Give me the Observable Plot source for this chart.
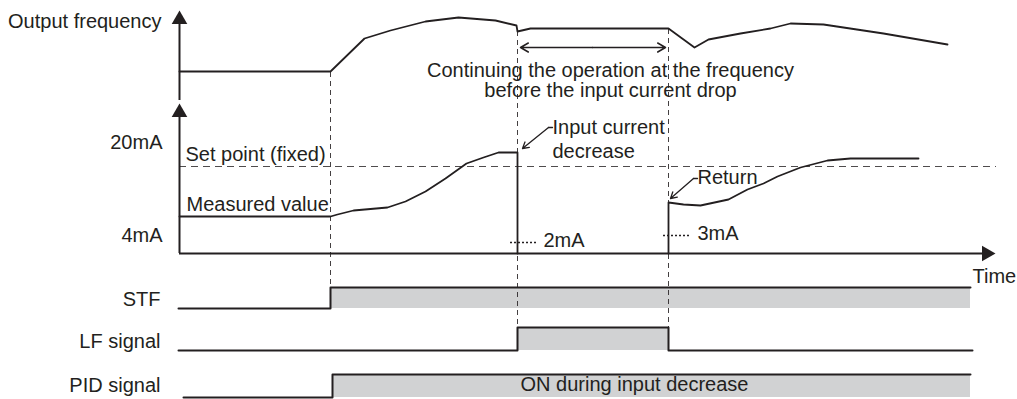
<!DOCTYPE html>
<html><head><meta charset="utf-8">
<script src="https://cdn.jsdelivr.net/npm/d3@7"></script>
<script src="https://cdn.jsdelivr.net/npm/@observablehq/plot@0.6"></script>
<style>
html,body{margin:0;padding:0;background:#fff;}
svg{display:block;}
</style>
</head><body>
<div id="chart"></div>
<script>
// ---- data (time t along the horizontal, level v along the vertical, both in drawing units) ----
const freqCurve = [
  {t:179,v:71},{t:330,v:71},{t:364,v:38},{t:390,v:30},{t:425,v:21},{t:458,v:17},{t:495,v:20},
  {t:516,v:25},{t:517,v:31},{t:530,v:28},{t:668,v:28},{t:694,v:47},{t:708,v:39},{t:740,v:33},
  {t:770,v:28},{t:790,v:23},{t:823,v:24},{t:883,v:33},{t:947,v:44}
];
const measuredBefore = [
  {t:179,v:216},{t:330,v:216},{t:337,v:214},{t:353,v:210},{t:387,v:207},{t:405,v:201},{t:425,v:191},
  {t:445,v:178},{t:466,v:163},{t:483,v:157},{t:498,v:152},{t:517,v:152},{t:517,v:253}
];
const measuredAfter = [
  {t:668,v:253},{t:668,v:202},{t:683,v:204},{t:700,v:205},{t:728,v:199},{t:747,v:189},{t:763,v:183},
  {t:777,v:176},{t:800,v:167},{t:827,v:160},{t:850,v:158},{t:918,v:158}
];
const eventLines = [{t:330,a:72,b:286},{t:517,a:31,b:327},{t:668,a:29,b:327}];
const setPoint = 166;
const stfSignal = [{t:178,v:308},{t:330,v:308},{t:330,v:287},{t:970,v:287}];
const lfSignal  = [{t:178,v:350},{t:517,v:350},{t:517,v:327},{t:668,v:327},{t:668,v:350},{t:972,v:350}];
const pidSignal = [{t:183,v:397},{t:332,v:397},{t:332,v:374},{t:970,v:374}];
const onBands = [
  {t1:330,t2:970,v1:287,v2:308},
  {t1:517,t2:668,v1:327,v2:350},
  {t1:332,t2:970,v1:374,v2:397}
];
const labelsEnd = [
  {t:161,v:27, text:"Output frequency"},
  {t:162,v:148,text:"20mA"},
  {t:162,v:241,text:"4mA"},
  {t:160,v:305,text:"STF"},
  {t:160,v:347,text:"LF signal"},
  {t:160,v:391,text:"PID signal"}
];
const labelsMiddle = [
  {t:610,v:76, text:"Continuing the operation at the frequency"},
  {t:610,v:96, text:"before the input current drop"}
];
const labelsStart = [
  {t:185,v:160,text:"Set point (fixed)"},
  {t:186,v:210,text:"Measured value"},
  {t:552,v:133,text:"Input current"},
  {t:552,v:157,text:"decrease"},
  {t:543,v:246,text:"2mA"},
  {t:697,v:183,text:"Return"},
  {t:697,v:239,text:"3mA"},
  {t:972,v:282,text:"Time"},
  {t:520,v:390,text:"ON during input decrease"}
];
const ink = "#231f20";
const font = "Liberation Sans, Arial, Helvetica, sans-serif";
const txt = (data, anchor) => Plot.text(data, {x:"t", y:"v", text:"text", textAnchor:anchor, lineAnchor:"bottom", fill:ink, fontSize:20, fontFamily:font});

const plot = Plot.plot({
  width: 1017, height: 399,
  margin: 0,
  x: {domain:[0,1017], range:[0,1017], axis:null},
  y: {domain:[0,399], range:[0,399], axis:null},
  style: {fontFamily: font, background:"#fff"},
  marks: [
    // gray ON bands
    Plot.rect(onBands, {x1:"t1", x2:"t2", y1:"v1", y2:"v2", fill:"#d1d2d3"}),
    // event dashed verticals
    Plot.ruleX(eventLines, {x:"t", y1:"a", y2:"b", stroke:ink, strokeWidth:1, strokeDasharray:"5,4", strokeOpacity:0.85}),
    // set point
    Plot.ruleY([setPoint], {x1:179, x2:996, stroke:ink, strokeWidth:1, strokeDasharray:"7,5", strokeOpacity:0.8}),
    // axes
    Plot.ruleX([179], {y1:22, y2:100, stroke:ink, strokeWidth:2}),
    Plot.ruleX([179], {y1:115, y2:253, stroke:ink, strokeWidth:2}),
    Plot.ruleY([253], {x1:179, x2:982, stroke:ink, strokeWidth:2}),
    Plot.dot([{t:179,v:19},{t:179,v:112}], {x:"t", y:"v", symbol:"triangle", r:5.8, fill:ink, stroke:null}),
    Plot.dot([{t:986,v:253}], {x:"t", y:"v", symbol:"triangle", r:5.8, fill:ink, stroke:null, rotate:90}),
    // curves
    Plot.line(freqCurve, {x:"t", y:"v", stroke:ink, strokeWidth:1.8}),
    Plot.line(measuredBefore, {x:"t", y:"v", stroke:ink, strokeWidth:1.8}),
    Plot.line(measuredAfter, {x:"t", y:"v", stroke:ink, strokeWidth:1.8}),
    // signals
    Plot.line(stfSignal, {x:"t", y:"v", stroke:ink, strokeWidth:2}),
    Plot.line(lfSignal, {x:"t", y:"v", stroke:ink, strokeWidth:2}),
    Plot.line(pidSignal, {x:"t", y:"v", stroke:ink, strokeWidth:2}),
    // double arrow
    Plot.arrow([{a:592,b:520},{a:592,b:665}], {x1:"a", x2:"b", y1:47, y2:47, stroke:ink, strokeWidth:1.5, headLength:9}),
    // annotation arrows
    Plot.line([{t:552,v:127},{t:548,v:127}], {x:"t", y:"v", stroke:ink, strokeWidth:1.3}),
    Plot.arrow([{a:548,b:127,c:522,d:148}], {x1:"a", y1:"b", x2:"c", y2:"d", stroke:ink, strokeWidth:1.3, headLength:8}),
    Plot.line([{t:697,v:178},{t:693,v:178}], {x:"t", y:"v", stroke:ink, strokeWidth:1.3}),
    Plot.arrow([{a:693,b:178,c:670,d:198}], {x1:"a", y1:"b", x2:"c", y2:"d", stroke:ink, strokeWidth:1.3, headLength:8}),
    // dotted level markers
    Plot.ruleY([{v:242,a:510,b:538},{v:235,a:663,b:690}], {y:"v", x1:"a", x2:"b", stroke:ink, strokeWidth:1.3, strokeDasharray:"2,2"}),
    // labels
    txt(labelsEnd, "end"),
    txt(labelsMiddle, "middle"),
    txt(labelsStart, "start")
  ]
});
document.getElementById("chart").append(plot);
</script>
</body></html>
